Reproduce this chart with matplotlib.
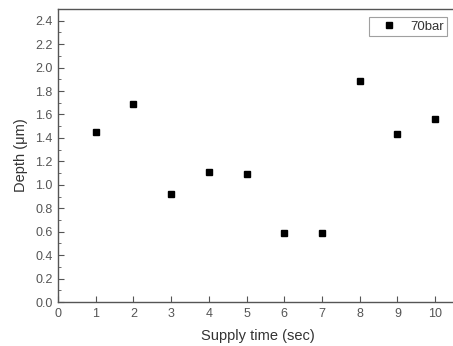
import matplotlib
matplotlib.use('Agg')
import matplotlib.pyplot as plt
from matplotlib.ticker import MultipleLocator, FormatStrFormatter

supply_time = [1, 2, 3, 4, 5, 6, 7, 8, 9, 10]
depth = [1.45, 1.69, 0.92, 1.11, 1.09, 0.59, 0.59, 1.89, 1.43, 1.56]
series_label = '70bar'

plt.rcParams['font.family'] = ['Liberation Sans', 'DejaVu Sans']

fig = plt.figure(figsize=(4.53, 3.46), dpi=100)
ax = fig.add_axes([0.128, 0.127, 0.8826, 0.847])

ax.plot(supply_time, depth, 's', color='black', ms=4.6, label=series_label)

ax.set_xlim(0, 10.6)
ax.set_ylim(0, 2.5)
ax.xaxis.set_major_locator(MultipleLocator(1))
ax.yaxis.set_major_locator(MultipleLocator(0.2))
ax.yaxis.set_minor_locator(MultipleLocator(0.1))
ax.yaxis.set_major_formatter(FormatStrFormatter('%.1f'))

spine_c = '#555555'
for s in ax.spines.values():
    s.set_color(spine_c)
    s.set_linewidth(1.0)
ax.spines['right'].set_visible(False)

ax.tick_params(which='both', direction='in', colors=spine_c, labelcolor='#555555', labelsize=9)
ax.tick_params(which='major', length=4, pad=4)
ax.tick_params(which='minor', length=2)

ax.set_xlabel('Supply time (sec)', fontsize=10.5, color='#333333', labelpad=7)
ax.set_ylabel('Depth (μm)', fontsize=10.5, color='#333333', labelpad=5)

leg = ax.legend(loc='upper right', bbox_to_anchor=(447 / 453, 1 - 17 / 346),
                bbox_transform=fig.transFigure, fontsize=9.5, frameon=True,
                fancybox=False, handletextpad=0.3, borderpad=0.25, markerscale=0.85,
                handlelength=2.6, borderaxespad=0)
leg.get_frame().set_edgecolor('#888888')
leg.get_frame().set_linewidth(0.8)
for t in leg.get_texts():
    t.set_color('#333333')

fig.savefig('out.png', dpi=100)
